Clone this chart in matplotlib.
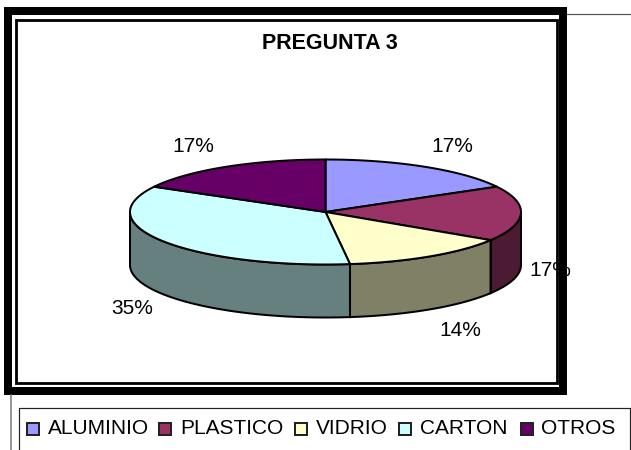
import numpy as np
import matplotlib
matplotlib.use('Agg')
import matplotlib.pyplot as plt
from matplotlib.patches import Rectangle

plt.rcParams['font.family'] = ['Liberation Sans', 'DejaVu Sans']

# Data
categories = ['ALUMINIO', 'PLASTICO', 'VIDRIO', 'CARTON', 'OTROS']
values = [17, 17, 14, 35, 17]
colors = ['#9999FF', '#993366', '#FFFFCC', '#CCFFFF', '#660066']
side_colors = ['#4C4C80', '#4C1A33', '#808066', '#668080', '#330033']

# Pie geometry in pixels
cx, cy = 325.5, 212
rx, ry = 195.5, 52.5
depth = 53
px = 0.72  # one pixel in points at dpi 100


def rim(a0, a1):
    # points along the ellipse, angles clockwise from the top
    t = np.radians(np.linspace(a0, a1, 120))
    return cx + rx * np.sin(t), cy - ry * np.cos(t)


fig = plt.figure(figsize=(6.31, 4.5), dpi=100)
ax = fig.add_axes([0, 0, 1, 1])
ax.set_xlim(0, 631)
ax.set_ylim(450, 0)
ax.axis('off')

# Frame around the chart
ax.plot([567, 631], [14, 14], color='#555555', lw=1.2 * px)
ax.plot([11, 11], [395, 450], color='#777777', lw=1.5 * px)
ax.add_patch(Rectangle((16, 19.5), 540.5, 363.5, fc='white', ec='black', lw=2.8 * px))
ax.add_patch(Rectangle((8, 11), 555, 380, fc='none', ec='black', lw=8 * px))

# Legend box, open at the bottom edge of the page
ax.plot([18.5, 18.5, 630, 630], [451, 408, 408, 451], color='#222222', lw=1.2 * px)

# Slices
edges = np.cumsum([0] + values) / sum(values) * 360
for i in range(len(values)):
    a0, a1 = max(edges[i], 90), min(edges[i + 1], 270)
    if a0 < a1:
        x, y = rim(a0, a1)
        ax.fill(np.r_[x, x[::-1]], np.r_[y, y[::-1] + depth],
                fc=side_colors[i], ec='black', lw=2 * px, zorder=2)
for i in range(len(values)):
    x, y = rim(edges[i], edges[i + 1])
    ax.fill(np.r_[cx, x], np.r_[cy, y], fc=colors[i], ec='black', lw=2 * px,
            zorder=3, joinstyle='round')

ax.text(330, 41, 'PREGUNTA 3', ha='center', va='center_baseline', fontsize=15.5,
        fontweight='bold', color='black')

# Percent labels
label_x = [452, 550, 460, 132, 193]
label_y = [146, 270, 331, 308, 147]
for v, lx, ly in zip(values, label_x, label_y):
    ax.text(lx, ly, f'{v}%', ha='center', va='center', fontsize=15,
            color='black', zorder=5)

# Legend entries
swatch_x = [27, 159, 295, 399, 521]
text_x = [47.5, 180, 316, 420, 541]
for name, c, sx, tx in zip(categories, colors, swatch_x, text_x):
    ax.add_patch(Rectangle((sx, 423), 12, 12, fc=c, ec='#222222', lw=2 * px))
    ax.text(tx, 434, name, ha='left', va='baseline', fontsize=15, color='black')

fig.savefig('out.png', dpi=100)
